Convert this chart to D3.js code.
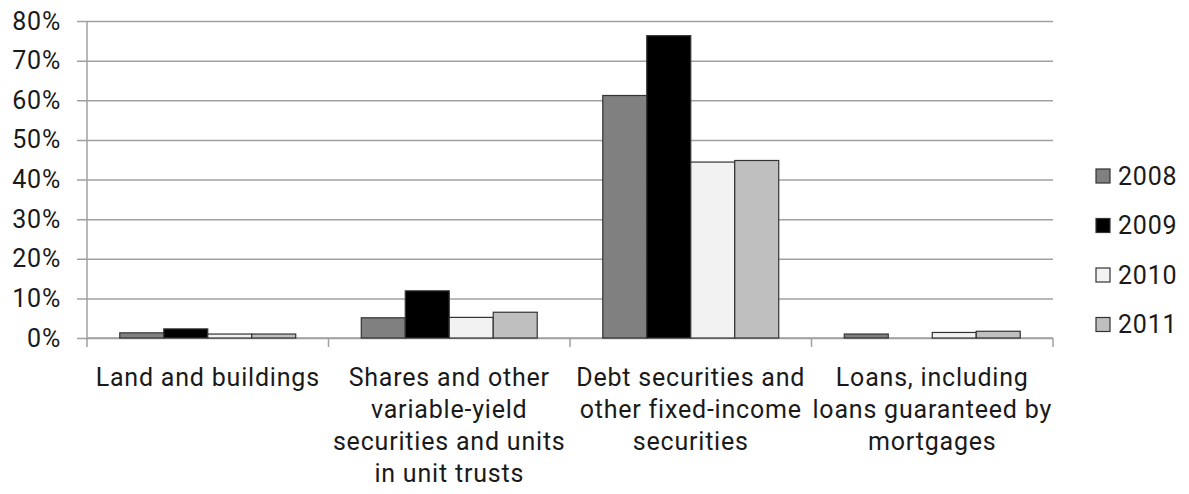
<!DOCTYPE html>
<html>
<head>
<meta charset="utf-8">
<script src="https://cdn.jsdelivr.net/npm/d3@7"></script>
<style>
  html, body { margin: 0; padding: 0; background: #fff; }
  svg { display: block; font-family: Roboto, "DejaVu Sans", sans-serif; }
</style>
</head>
<body>
<svg id="chart" width="1189" height="494"></svg>
<script>
// Asset categories, each label split into display lines
const categories = [
  "Land and buildings",
  "Shares and other variable-yield securities and units in unit trusts",
  "Debt securities and other fixed-income securities",
  "Loans, including loans guaranteed by mortgages"
];
const categoryLines = [
  ["Land and buildings"],
  ["Shares and other", "variable-yield", "securities and units", "in unit trusts"],
  ["Debt securities and", "other fixed-income", "securities"],
  ["Loans, including", "loans guaranteed by", "mortgages"]
];
const years = ["2008", "2009", "2010", "2011"];

// Share of investments (%) per year, in category order
const values2008 = [1.3, 5.1, 61.2, 1.0];
const values2009 = [2.3, 11.9, 76.3, 0];
const values2010 = [1.0, 5.2, 44.4, 1.4];
const values2011 = [1.0, 6.5, 44.8, 1.7];

const yTicks = [0, 10, 20, 30, 40, 50, 60, 70, 80];
const colors = ["#808080", "#000000", "#f2f2f2", "#bfbfbf"];

const seriesValues = [values2008, values2009, values2010, values2011];

const svg = d3.select("#chart");
const plot = { left: 87, right: 1053, top: 21, bottom: 338 };

const x = d3.scaleBand().domain(categories).range([plot.left, plot.right]).paddingInner(0).paddingOuter(0);
const x1 = d3.scaleBand().domain(years).range([0, x.bandwidth()]).paddingInner(0).paddingOuter(0.745);
const y = d3.scaleLinear().domain([0, 80]).range([plot.bottom, plot.top]);

const gridColor = "#a0a0a0";
const textColor = "#1a1a1a";
const fontSize = 25;
const spacing = "0.8px";

// Horizontal gridlines with left ticks
const yAxis = d3.axisLeft(y).tickValues(yTicks).tickFormat(d => d + "%")
  .tickSize(plot.right - plot.left + 10).tickPadding(16);
const yg = svg.append("g").attr("transform", `translate(${plot.right},0)`).call(yAxis);
yg.select(".domain").remove();
yg.selectAll(".tick line").attr("stroke", gridColor).attr("stroke-width", 1.5);
yg.selectAll(".tick text")
  .attr("fill", textColor).attr("font-size", fontSize)
  .attr("font-family", "Roboto, sans-serif").attr("letter-spacing", spacing);

// Vertical value axis line
svg.append("line")
  .attr("x1", plot.left).attr("x2", plot.left)
  .attr("y1", plot.top).attr("y2", plot.bottom)
  .attr("stroke", gridColor).attr("stroke-width", 1.5);

// Category axis with ticks at band boundaries
const bounds = categories.map(c => x(c)).concat([plot.right]);
svg.append("line")
  .attr("x1", plot.left).attr("x2", plot.right)
  .attr("y1", plot.bottom).attr("y2", plot.bottom)
  .attr("stroke", gridColor).attr("stroke-width", 1.5);
svg.append("g").selectAll("line").data(bounds).join("line")
  .attr("x1", d => d).attr("x2", d => d)
  .attr("y1", plot.bottom).attr("y2", plot.bottom + 9)
  .attr("stroke", gridColor).attr("stroke-width", 1.5);

// Bars
const groups = svg.append("g").selectAll("g").data(categories).join("g")
  .attr("transform", c => `translate(${x(c)},0)`);
groups.selectAll("rect")
  .data((c, i) => years.map((yr, j) => ({ yr, v: seriesValues[j][i], j })))
  .join("rect")
  .filter(d => d.v > 0)
  .attr("x", d => x1(d.yr))
  .attr("width", x1.bandwidth())
  .attr("y", d => y(d.v))
  .attr("height", d => y(0) - y(d.v))
  .attr("fill", d => colors[d.j])
  .attr("stroke", "#333")
  .attr("stroke-width", 1.2);

// Category labels
const labels = svg.append("g").selectAll("text").data(categories).join("text")
  .attr("text-anchor", "middle")
  .attr("fill", textColor)
  .attr("font-size", fontSize)
  .attr("letter-spacing", spacing)
  .attr("transform", c => `translate(${x(c) + x.bandwidth() / 2},386)`);
labels.selectAll("tspan")
  .data((c, i) => categoryLines[i])
  .join("tspan")
  .attr("x", 0)
  .attr("y", (d, k) => k * 32)
  .text(d => d);

// Legend
const legend = svg.append("g").selectAll("g").data(years).join("g")
  .attr("transform", (d, i) => `translate(1096,${176 + i * 49.5})`);
legend.append("rect")
  .attr("x", 0).attr("y", -7).attr("width", 14).attr("height", 14)
  .attr("fill", (d, i) => colors[i]).attr("stroke", "#333").attr("stroke-width", 1.2);
legend.append("text")
  .attr("x", 22).attr("y", 0).attr("dy", "0.35em")
  .attr("fill", textColor).attr("font-size", fontSize)
  .attr("letter-spacing", spacing)
  .text(d => d);
</script>
</body>
</html>
